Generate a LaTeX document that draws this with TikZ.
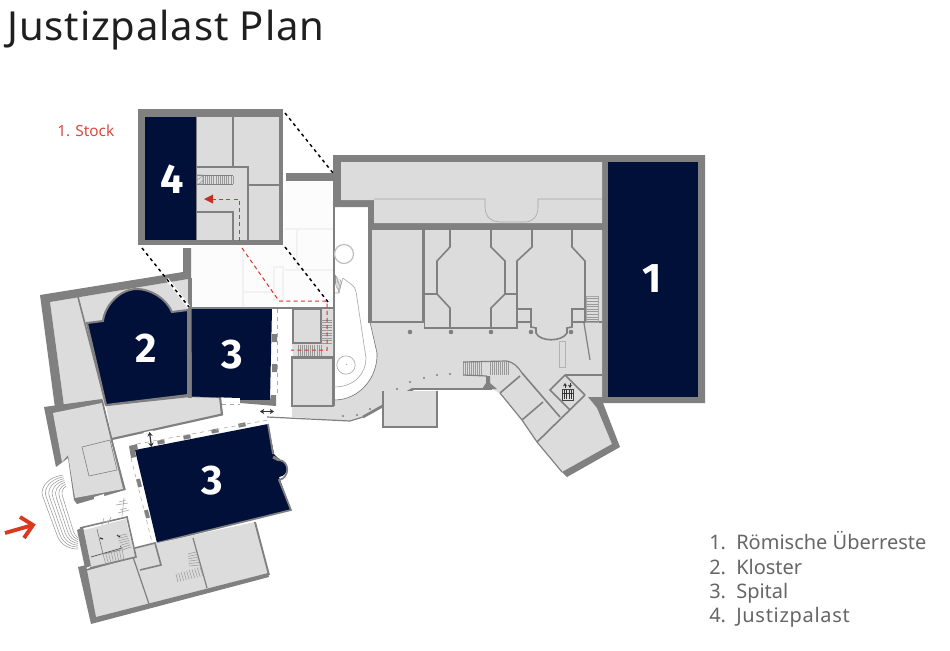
\documentclass[tikz,border=0pt]{standalone}
\usepackage{fontspec}
\setmainfont{Noto Sans}
\newfontfamily\numfont{Fira Sans}
\newfontfamily\titlefont[LetterSpace=2.2]{Noto Sans}
\newfontfamily\spacedfont[LetterSpace=3.5]{Noto Sans}
\usetikzlibrary{calc,arrows.meta}
\definecolor{wallc}{HTML}{808080}
\definecolor{floorc}{HTML}{DCDCDC}
\definecolor{navyc}{HTML}{011039}
\definecolor{faintc}{HTML}{FCFCFC}
\definecolor{faintl}{HTML}{F2F2F2}
\definecolor{redc}{HTML}{D9342B}
\definecolor{arrowc}{HTML}{D8391F}
\tikzset{
 wallfill/.style={fill=wallc,draw=none},
 floorfill/.style={fill=floorc,draw=none},
 navyroom/.style={fill=navyc,draw=none},
 wall/.style={draw=wallc,line width=1.2pt,line join=miter},
 thinwall/.style={draw=wallc,line width=.9pt},
 hair/.style={draw=black!35,line width=.45pt},
 stairline/.style={draw=black!40,line width=.4pt},
 faintline/.style={draw=faintl,line width=.9pt},
 smalldot/.style={fill=wallc,draw=none},
 bigdot/.style={fill=wallc,draw=none},
 zoomline/.style={draw=black,line width=1.1pt,dash pattern=on 2.4pt off 2.6pt},
 zoomunder/.style={draw=white,line width=2.2pt},
 redpath/.style={draw=redc,line width=.75pt,dash pattern=on 3pt off 2.4pt},
 bignum/.style={text=white,font=\numfont\bfseries\fontsize{31}{31}\selectfont,inner sep=0pt,anchor=center},
 legend/.style={text=black!60,font=\fontsize{15}{15}\selectfont,inner sep=0pt,anchor=base west},
 dbl/.style={{Stealth[length=3.2pt,width=4pt]}-{Stealth[length=3.2pt,width=4pt]},draw=black!80,line width=.9pt},
}
\newcommand{\flight}[5]{\foreach \t in {0,...,#5}{\draw[stairline] ($#1!\t/#5!#2$) -- ($#3!\t/#5!#4$);}}
\begin{document}
\begin{tikzpicture}[x=0.75pt,y=-0.75pt]
\useasboundingbox (0,0) rectangle (950,650);
\fill[white] (0,0) rectangle (950,650);
% faint upper floor ghost
\fill[faintc] (191,245) -- (283,245) -- (286,178) -- (334,178) -- (334,307) -- (191,307) -- cycle;
\draw[faintline] (285,229) -- (333,229) (297,229) -- (297,270) (285,270) -- (333,270) (243,248) -- (243,307) (243,292) -- (273,292);
\draw[faintline] (274,267) -- (283,267) -- (283,300) -- (274,300) -- cycle;
\fill[wallfill] (286,173) rectangle (334,181);
% ---- east wing walls
\fill[wallfill] (334,155) -- (705,155) -- (705,403) -- (602,403) -- (602,230) -- (368,230) -- (368,207) -- (341,207) -- (333,207) -- (333,155) -- cycle;
\fill[floorfill] (341,162) -- (602,162) -- (602,223) -- (374,223) -- (374,200) -- (341,200) -- cycle;
\draw[hair] (374,199) -- (485,199) -- (485,207) .. controls (485,217) and (492,222) .. (499,222) -- (525,222) .. controls (533,222) and (538,216) .. (538,207) -- (538,199) -- (602,199);
\fill[navyroom] (608,162) rectangle (698,397);
% ---- hall floor
\fill[floorfill] (372,230) -- (602,230) -- (602,397) -- (588,397) -- (597,408) -- (612,444) -- (562,472) -- (537,442) -- (522,420) -- (500,393) -- (492,389) -- (413,389) -- (363,417) -- (350,421) -- (292,417) -- (292,406) -- (334,406) -- (334,400) .. controls (360,400) and (378,377) .. (377,353) -- (370,322) -- cycle;
% atrium edges
\draw[draw=black!55,line width=.45pt] (334,400) .. controls (360,400) and (378,377) .. (377,353) -- (370,322);
\fill[wallc] (368,230) rectangle (372,323);
\draw[draw=wallc,line width=1.5pt] (334,207) -- (334,406);
\draw[draw=black!25,line width=.9pt] (344,254) circle (9.5);
\draw[hair] (346,365) circle (9.2);
\draw[hair] (345.5,364.5) -- (346.5,364.5) (346,364) -- (346,365);
\draw[hair] (334,387) .. controls (355,387) and (366,373) .. (366,358) -- (357,298) .. controls (356,290) and (355,287) .. (352,285) -- (343,278);
\flight{(335,275)}{(342,281)}{(335,284)}{(339,293)}{5}
\draw[hair] (339,293) -- (335,293) (343,278) -- (338,293);
% rooms in the hall
\fill[floorfill] (372,230) rectangle (424,322);
\draw[wall] (370,322) -- (423,322) -- (423,230);
\draw[wall] (424.5,230) -- (424.5,328) -- (517,328) -- (517,322);
\draw[wall] (450,230) -- (450,247) -- (437,261) -- (437,294) -- (450,308) -- (450,327);
\draw[wall] (491,230) -- (491,247) -- (505,261) -- (505,294) -- (491,308) -- (491,327);
\draw[wall] (424,294) -- (437,294) (505,294) -- (517,294);
\draw[wall] (532,230) -- (532,247) -- (517,261) -- (517,322) -- (531,322) -- (531,309) -- (517,309);
\draw[wall] (572,230) -- (572,247) -- (585,261) -- (585,322) -- (572,322) -- (572,309) -- (585,309);
\draw[wall] (585,322) -- (602,322);
\draw[wall] (531,322) -- (531,327) -- (536,328) -- (536,333) .. controls (540,342) and (562,342) .. (567,333) -- (567,328) -- (572,327) -- (572,322);
\flight{(586,296)}{(586,322)}{(598,296)}{(598,322)}{10}
\draw[hair] (586,296) rectangle (598,322);
\draw[thinwall] (584,323) -- (590,360);
\draw[draw=black!30,line width=.6pt] (559,341) rectangle (565,367);
\foreach \x in {410,451,491,531,571}{\fill[bigdot] (\x,332) circle (2.3);}
\foreach \p in {(343,416),(357,415),(370,409),(383,399),(397,389),(410,382),(424,378),(437,375),(450,374)}{\fill[smalldot] \p circle (1.1);}
% stairs and curved wall of the hall
\flight{(463,362)}{(481,362)}{(463,375)}{(481,375)}{9}
\flight{(490,362)}{(508,362)}{(490,375)}{(508,375)}{9}
\draw[thinwall] (463,362) -- (506,361) .. controls (514,362) and (518,367) .. (522,373);
\draw[thinwall] (463,375) -- (487,376);
\fill[wallfill] (486,376) -- (486,383) -- (482,389) -- (497,389) -- (490,383) -- (490,376) -- cycle;
\draw[wall] (522,373) -- (560,417);
\draw[wall] (520,376) -- (500,393) (543,402) -- (522,420) (585,395) -- (537,442);
\draw[wall] (565,375) -- (550,390) -- (570,410) (565,375) -- (585,395) (565,375) -- (602,375);
\draw[thinwall] (500,393) -- (522,420) -- (537,442) -- (562,472);
\draw[thinwall] (492,389) -- (413,389);
\draw[draw=wallc,line width=2pt] (363,417) -- (413,389);
\draw[thinwall] (267,417) -- (350,421) -- (363,417);
\draw[thinwall,fill=floorc] (383,391) -- (383,427) -- (437,427) -- (437,391);
% lower east wall
\fill[wallfill] (588,397) -- (602,397) -- (603,403) -- (620,447) -- (567,477) -- (562,472) -- (612,444) -- (597,408) -- cycle;
% elevator icon
\draw[draw=black!75,fill=black!12,line width=.6pt] (562,389) rectangle (573,400);
\foreach \x in {564,566.5,569,571.5}{\draw[draw=black!80,line width=.6pt] (\x,390) -- (\x,399);}
\draw[draw=black!80,line width=.6pt] (562,393) -- (573,393);
\draw[-{Stealth[length=2.5pt,width=3pt]},draw=black!80,line width=.6pt] (565,388) -- (565,383);
\draw[-{Stealth[length=2.5pt,width=3pt]},draw=black!80,line width=.6pt] (570,383) -- (570,388);
% ---- middle boxes
\fill[floorfill] (293,309) -- (333,309) -- (333,357) -- (293,357) -- (292,343) -- cycle;
\draw[draw=wallc,line width=1.9pt] (293,309) rectangle (321,343);
\fill[floorc] (294,310) rectangle (320,342);
\flight{(321,320)}{(321,343)}{(332,320)}{(332,343)}{9}
\flight{(298,345)}{(321,345)}{(298,356)}{(321,356)}{11}
\draw[draw=wallc,line width=1.9pt,fill=floorc] (292,357.5) rectangle (333,406);
\draw[draw=wallc,line width=1.2pt] (272,308) -- (333,308);
\fill[floorc] (293,407) -- (334,407) -- (334,417) -- (293,417) -- cycle;
% ---- west wing
\fill[floorfill] (50,302) -- (188,279) -- (188,310) -- (172,312) -- (110,405) -- (64,406) -- cycle;
\fill[wallfill] (40,295) -- (183,272) -- (183,248) -- (191,248) -- (191,308) -- (188,308) -- (188,279) -- (50,302) -- (64,406) -- (55,408) -- cycle;
\draw[wall] (78,297) -- (106,405);
% strip below room 2
\draw[draw=wallc,line width=1.6pt,fill=floorc] (106,405) -- (190,396) -- (220,397) -- (222,414.5) -- (112,439);
% room 2
\path[navyroom,draw=wallc,line width=1.5pt] (87,323) -- (103,321) .. controls (105,305) and (120,289) .. (137,289) .. controls (150,289) and (166,298) .. (172,312) -- (188,310) -- (188,395) -- (106,405) -- cycle;
\fill[wallc] (188,278) rectangle (192,398);
% room 3 upper
\fill[navyroom] (191.5,309) -- (272,309) -- (270,400) -- (240,400) -- (240,398) -- (192,396.5) -- cycle;
\fill[wallfill] (240,400) -- (270,400) -- (271,395) -- (276,395) -- (276,406) -- (240,403) -- cycle;
\fill[wallc] (272,334) rectangle (277,342) (272,364) rectangle (277,372);
\draw[hair,dashed] (277,309) -- (277,395);
\draw[hair,dashed] (222,404) -- (240,404);
\fill[wallc] (190,307) rectangle (272,309);
% middle block
\fill[wallfill] (44,407) -- (102,399) -- (125,490) -- (77,504) -- (74,500) -- (68,458) -- (56,467) -- cycle;
\fill[floorfill] (53,413) -- (102,403) -- (123,489) -- (75,498) -- (68,455) -- (62,462) -- cycle;
\draw[wall] (102,400) -- (113,445) -- (125,490);
\fill[white] (94,497) -- (104,494) -- (104,498) -- (94,501) -- cycle;
\draw[draw=black!50,line width=.45pt] (82,447) -- (110,440) -- (117,470) -- (89,476) -- cycle;
% room 3 lower
\path[navyroom] (135,450) -- (268,424) -- (274,454) -- (280,460) .. controls (290,462) and (289,476) .. (279,477) -- (291,510) -- (157,543) -- cycle;
\draw[draw=wallc,line width=1.3pt] (268,424) -- (273,454);
\draw[draw=wallc,line width=2.2pt] (273,457) -- (279,460);
\draw[draw=wallc,line width=1.3pt] (279,460) .. controls (290,461) and (290,478) .. (279,480) -- (291,510) -- (157,543);
\fill[wallfill] (129,446) -- (137,444) -- (138,450) -- (135,450) -- (136,457) -- (131,458) -- cycle;
\foreach \x/\y in {161/442,187/437,215/431,242/425}{\draw[draw=wallc,line width=3pt] (\x-3.5,\y+.7) -- (\x+3.5,\y-.7);}
\foreach \x/\y in {139/483,147/514}{\draw[draw=wallc,line width=3pt] (\x-1,\y-4) -- (\x+1,\y+4);}
\draw[hair,dashed] (137,444) -- (268,420);
\draw[hair,dashed] (131,458) -- (152,542);
\draw[draw=white,line width=2.5pt] (144,434) -- (153,432);
% south block
\fill[floorfill] (86,570) -- (133,557) -- (135,548) -- (157,543) -- (255,522) -- (268,573) -- (96,617) -- cycle;
\fill[wallfill] (78,567) -- (86,565) -- (96,617) -- (268,573) -- (269,577) -- (91,624) -- cycle;
\draw[draw=wallc,line width=1.4pt] (255,522) -- (269,575);
\draw[wall] (86,570) -- (133,557);
\draw[thinwall] (133,557) -- (149,604) (193,538) -- (207,588);
\draw[wall] (135,548) -- (155,543) -- (161,565) -- (140,570);
\flight{(188,554)}{(189,566)}{(196,552)}{(200,565)}{5}
\flight{(176,574)}{(200,567)}{(178,582)}{(203,576)}{9}
% entrance block
\fill[floorfill] (84,530) -- (126,519) -- (135,557) -- (91,567) -- cycle;
\fill[wallfill] (77,530) -- (83,527) -- (91,566) -- (85,568) -- cycle;
\draw[wall] (80,528) -- (127,517) -- (136,557) -- (90,568);
\draw[draw=black!70,line width=.5pt] (91,557) -- (122,548) -- (120,546);
\draw[draw=black!50,line width=.5pt] (97,529) -- (103,554) -- (121,550);
\draw[draw=black!80,line width=.9pt] (100,538) -- (103,539) (117,535) -- (120,537);
\flight{(117,536)}{(122,550)}{(127,534)}{(131,547)}{6}
\flight{(103,554)}{(122,549)}{(106,565)}{(124,560)}{7}
\draw[hair] (102,525) -- (104,518) (104,522) -- (110,521) (108,524) -- (111,517);
\draw[hair] (119,502) -- (126,500) (120,510) -- (127,508) (122,516) -- (124,498);
\draw[hair] (116,505) -- (128,503) (118,513) -- (129,510);
% amphitheatre steps
\coordinate (oa) at (63,475); \coordinate (ob) at (48,477); \coordinate (oc) at (39,488); \coordinate (od) at (43,497);
\coordinate (oe) at (57,535); \coordinate (of) at (61,546); \coordinate (og) at (70,549); \coordinate (oh) at (78,549);
\coordinate (ia) at (66,486); \coordinate (ib) at (62,489); \coordinate (ic) at (61,493); \coordinate (id) at (63,498);
\coordinate (ie) at (73,530); \coordinate (if) at (74,534); \coordinate (ig) at (76,536); \coordinate (ih) at (78,538);
\foreach \t in {0,...,6}{\draw[stairline] ($(oa)!\t/6!(ia)$) .. controls ($(ob)!\t/6!(ib)$) and ($(oc)!\t/6!(ic)$) .. ($(od)!\t/6!(id)$) -- ($(oe)!\t/6!(ie)$) .. controls ($(of)!\t/6!(if)$) and ($(og)!\t/6!(ig)$) .. ($(oh)!\t/6!(ih)$);}
% ---- inset
\fill[wallc] (138,109) rectangle (283,245);
\fill[floorc] (197,117) rectangle (279,240);
\fill[navyc] (145,117) rectangle (195.5,240);
\draw[thinwall] (233,117) -- (233,167) (197,167) -- (248,167) -- (248,240) (248,185) -- (279,185) (197,212) -- (233,212) -- (233,240);
\flight{(203,176)}{(233,176)}{(203,184)}{(233,184)}{14}
\draw[draw=wallc,line width=.7pt] (197,175) -- (233,175);
\draw[draw=wallc,line width=.9pt] (197,184.5) -- (233,184.5);
\draw[stairline] (197,175) rectangle (203,184) (197,180) -- (203,176) (199,184) -- (203,180);
% ---- zoom lines
\coordinate (z1a) at (285,113); \coordinate (z1b) at (333,173);
\coordinate (z2a) at (142,248); \coordinate (z2b) at (189,307);
\coordinate (z3a) at (285,247); \coordinate (z3b) at (328,302);
\draw[zoomunder] (167,279) -- (z2b);
\draw[zoomline] (z1a) -- (z1b);
\draw[zoomline] (z2a) -- (z2b);
\draw[zoomline] (z3a) -- (z3b);
% ---- red route
\coordinate (r1) at (212,199); \coordinate (r2) at (239,199); \coordinate (r3) at (239,243);
\coordinate (r4) at (242,248); \coordinate (r5) at (279,301); \coordinate (r6) at (327,301);
\coordinate (r7) at (327,350); \coordinate (r8) at (291,350);
\draw[redpath] (r1) -- (r2) -- (r3);
\draw[redpath] (r4) -- (r5) -- (r6) -- (r7) -- (r8);
\fill[redc!90!black] (204,199) -- (213,194.5) -- (213,203.5) -- cycle;
% ---- double arrows
\coordinate (d1a) at (260,411.5); \coordinate (d1b) at (274,411.5);
\coordinate (d2a) at (149.5,432); \coordinate (d2b) at (151.5,447);
\draw[dbl] (d1a) -- (d1b);
\draw[dbl] (d2a) -- (d2b);
% ---- entrance arrow
\coordinate (e1) at (5,533); \coordinate (e2) at (33,525); \coordinate (e3) at (20,517); \coordinate (e4) at (24,538);
\draw[draw=arrowc,line width=2.9pt] (e1) -- (e2);
\draw[draw=arrowc,line width=2.9pt,line join=miter] (e3) -- (e2) -- (e4);
% ---- texts
\node[bignum] (n1) at (652,279) {1};
\node[bignum] (n2) at (146,348) {2};
\node[bignum] (n3a) at (232,355) {3};
\node[bignum] (n3b) at (212,481) {3};
\node[bignum] (n4) at (172,179) {4};
\node[anchor=base west,inner sep=0pt,text=black!88,font=\titlefont\fontsize{30}{30}\selectfont] (title) at (7,40) {Justizpalast Plan};
\node[anchor=base west,inner sep=0pt,text=redc!90,font=\fontsize{11.5}{11.5}\selectfont] (stock) at (57,136) {1. Stock};
\node[legend] (l1) at (709,549) {1.};
\node[legend] (l2) at (709,574) {2.};
\node[legend] (l3) at (709,598) {3.};
\node[legend] (l4) at (709,622) {4.};
\node[legend] (t1) at (736,549) {Römische Überreste};
\node[legend] (t2) at (736,574) {Kloster};
\node[legend] (t3) at (736,598) {Spital};
\node[legend,font=\spacedfont\fontsize{15}{15}\selectfont] (t4) at (736,622) {Justizpalast};
\end{tikzpicture}
\end{document}
